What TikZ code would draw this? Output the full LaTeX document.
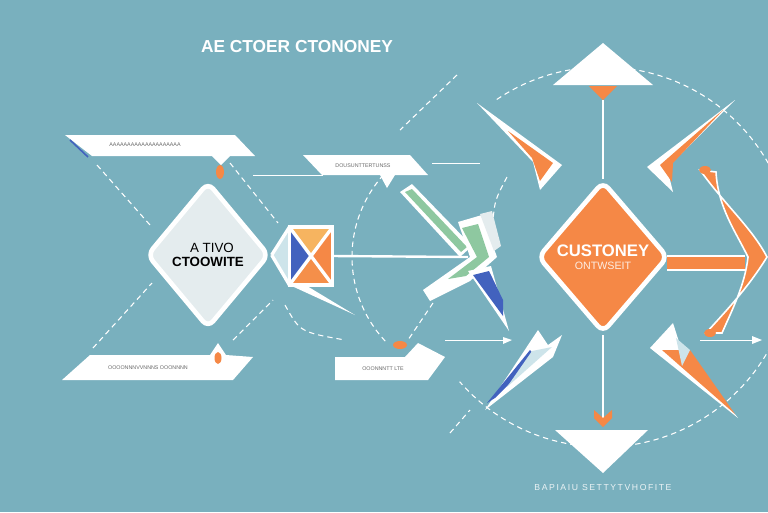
\documentclass[tikz,border=0pt]{standalone}
\usepackage{fontspec}
\setmainfont{Liberation Sans}
\usetikzlibrary{shapes.geometric, arrows, calc}

\definecolor{sea}{RGB}{121,176,190}
\definecolor{tang}{RGB}{245,136,70}
\definecolor{apricot}{RGB}{246,180,96}
\definecolor{cobalt}{RGB}{66,98,190}
\definecolor{mint}{RGB}{142,200,160}
\definecolor{mist}{RGB}{228,236,238}
\definecolor{frost}{RGB}{205,228,234}
\definecolor{ink}{RGB}{105,105,105}

\tikzstyle{decision} = [diamond, rounded corners=6pt, line width=3.5pt, draw=white, inner sep=0pt, align=center]
\tikzstyle{gate} = [rectangle, minimum width=32pt, minimum height=43pt, inner sep=0pt]
\tikzstyle{banner} = [fill=white]
\tikzstyle{caption} = [font=\fontsize{4}{4}\selectfont, text=ink]
\tikzstyle{link} = [white, line width=1.8pt]
\tikzstyle{hair} = [white, line width=0.7pt]
\tikzstyle{trail} = [white, line width=0.8pt, dash pattern=on 4pt off 3pt]
\tikzstyle{ember} = [fill=tang]

\begin{document}
\begin{tikzpicture}[x=0.75pt, y=-0.75pt]
    % Canvas
    \fill[sea] (0,0) rectangle (768,512);
    \useasboundingbox (0,0) rectangle (768,512);
    \coordinate (core) at (603,257);
    \coordinate (ring) at (475,257);

    % Title
    \node[font=\bfseries\fontsize{13}{13}\selectfont, text=white] (title) at (297,47) {AE CTOER CTONONEY};

    % Dashed guides
    \draw[trail] ($(core)+(-124:190)$) arc[start angle=-124, end angle=139, radius=190];
    \draw[trail] ($(ring)+(-125:123)$) arc[start angle=-125, end angle=-225, radius=123];
    \draw[trail] (97,165) -- (150,225);
    \draw[trail] (230,163) -- (278,223);
    \draw[trail] (93,348) -- (152,283);
    \draw[trail] (233,340) -- (273,300);
    \draw[trail] (285,305) .. controls (300,332) .. (345,340);
    \draw[trail] (457,75) -- (400,130);
    \draw[trail] (507,177) .. controls (495,200) .. (493,220);
    \draw[trail] (433,303) -- (408,340);
    \draw[trail] (450,433) -- (470,410);

    % Thin rules
    \draw[hair] (253,175) -- (323,175);
    \draw[hair] (432,163) -- (480,163);
    \draw[hair] (445,340) -- (510,340);
    \fill[white] (503,337) -- (512,340) -- (503,344) -- cycle;
    \draw[hair] (700,340) -- (760,340);
    \fill[white] (752,336) -- (762,340) -- (752,344) -- cycle;

    % Main flow
    \node[decision, fill=mist, minimum width=92pt, minimum height=110pt, font=\fontsize{10}{11}\selectfont] (active) at (208,255) {\hspace*{6pt}A TIVO\\\textbf{CTOOWITE}};
    \node[gate] (gate) at (311,256) {};
    \coordinate (chev) at (468,257);
    \draw[link] (gate.east) -- (chev);

    % Gate quadrants
    \fill[frost] (active.east) -- (gate.north west) -- (gate.south west) -- cycle;
    \fill[apricot] (gate.north west) -- (gate.north east) -- (gate.center) -- cycle;
    \fill[tang] (gate.north east) -- (gate.south east) -- (gate.center) -- cycle;
    \fill[tang!85!apricot] (gate.south west) -- (gate.south east) -- (gate.center) -- cycle;
    \fill[cobalt] (gate.north west) -- (gate.south west) -- (gate.center) -- cycle;
    \draw[white, line width=2.5pt] (gate.north west) rectangle (gate.south east);
    \draw[white, line width=2.5pt] (gate.north west) -- (gate.south east) (gate.north east) -- (gate.south west);
    \draw[white, line width=2.5pt] (active.east) -- (gate.north west) (active.east) -- (gate.south west);
    \fill[white] (gate.south west) -- (355,315) -- (302,283) -- cycle;

    % Banners
    \fill[banner] (65,135) -- (235,135) -- (255,156) -- (230,156) -- (221,165) -- (212,156) -- (92,156) -- cycle;
    \node[caption] (topnote) at (145,145) {AAAAAAAAAAAAAAAAAAAA};
    \draw[cobalt, line width=1.2pt] (70,140) -- (88,157);
    \fill[ember] (220,172) ellipse [x radius=4, y radius=7];

    \fill[banner] (62,380) -- (90,355) -- (210,355) -- (218,343) -- (226,355) -- (253,357) -- (233,380) -- cycle;
    \node[caption] (lownote) at (148,368) {OOOONNNVVNNNS OOONNNN};
    \fill[ember] (218,358) ellipse [x radius=3.5, y radius=6];

    \fill[banner] (303,155) -- (410,155) -- (428,175) -- (395,175) -- (387,188) -- (380,175) -- (322,175) -- cycle;
    \node[caption] (midnote) at (363,166) {DOUSUNTTERTUNSS};

    \fill[banner] (335,357) -- (405,357) -- (418,343) -- (445,357) -- (428,380) -- (335,380) -- cycle;
    \node[caption] (basenote) at (383,369) {OOONNNTT LTE};
    \fill[ember] (400,345) ellipse [x radius=7, y radius=4];

    % Left chevrons
    \fill[white] (400,192) -- (412,184) -- (472,246) -- (460,257) -- cycle;
    \fill[mint] (405,192) -- (412,189) -- (467,247) -- (461,252) -- cycle;
    \fill[white] (458,222) -- (482,215) -- (497,257) -- (470,281) -- (430,301) -- (423,290) -- (470,257) -- cycle;
    \fill[mint] (462,228) -- (478,224) -- (489,257) -- (466,276) -- (448,279) -- (477,257) -- cycle;
    \fill[mist] (480,214) -- (492,211) -- (501,246) -- (494,251) -- cycle;
    \fill[white] (468,271) -- (491,266) -- (509,331) -- cycle;
    \fill[cobalt] (473,275) -- (489,271) -- (503,300) -- (503,316) -- cycle;

    % Hub
    \node[decision, fill=tang, minimum width=98pt, minimum height=114pt, text=white] (hub) at (core) {\textbf{\fontsize{12.5}{13}\selectfont CUSTONEY}\\[-2pt]{\fontsize{8}{9}\selectfont\color{white!85!tang} ONTWSEIT}};

    % Top and bottom caps
    \fill[white] (553,85) -- (603,43) -- (653,85) -- cycle;
    \fill[tang] (589,86) -- (617,86) -- (603,100) -- cycle;
    \coordinate (topcap) at (603,100);
    \draw[link] (topcap) -- (hub.north);
    \fill[white] (555,430) -- (648,430) -- (603,473) -- cycle;
    \coordinate (botcap) at (603,421);
    \draw[link] (hub.south) -- (botcap);
    \fill[tang] (594,410) -- (603,418) -- (612,410) -- (612,418) -- (603,427) -- (594,418) -- cycle;

    % Right bar
    \coordinate (east) at (745,263);
    \draw[white, line width=12pt] ($(hub.east)+(-4,6)$) -- (east);
    \draw[tang, line width=9pt] ($(hub.east)+(-4,6)$) -- (east);

    % Planes around the hub
    \fill[white] (477,103) -- (562,165) -- (540,190) -- (533,162) -- cycle;
    \fill[tang] (508,131) -- (553,163) -- (540,181) -- (532,158) -- cycle;
    \fill[white] (735,100) -- (647,167) -- (673,192) -- (667,168) -- cycle;
    \fill[tang] (723,110) -- (660,165) -- (672,182) -- (673,163) -- cycle;
    \fill[white] (485,410) -- (538,330) -- (548,345) -- (562,335) -- (553,357) -- cycle;
    \fill[cobalt] (487,403) -- (530,350) -- (536,357) -- (495,398) -- cycle;
    \fill[frost] (532,351) -- (552,347) -- (507,387) -- cycle;
    \fill[white] (650,348) -- (673,323) -- (680,345) -- (738,418) -- cycle;
    \fill[tang] (662,350) -- (690,350) -- (735,414) -- cycle;
    \fill[frost] (676,338) -- (690,350) -- (682,366) -- cycle;

    % Curved arrow on the right
    \filldraw[fill=tang, draw=white, line width=1.2pt] (700,170) .. controls (725,205) and (752,228) .. (767,257) .. controls (748,288) and (725,312) .. (706,333) -- (722,333) .. controls (732,310) and (745,285) .. (748,257) .. controls (736,232) and (718,208) .. (716,172) -- cycle;
    \fill[ember] (705,170) ellipse [x radius=6, y radius=4];
    \fill[ember] (710,333) ellipse [x radius=6, y radius=4];

    % Footer
    \node[font=\fontsize{6.5}{6.5}\selectfont\addfontfeature{LetterSpace=18}, text=white!85!sea] (footer) at (603,488) {BAPIAIU SETTYTVHOFITE};
\end{tikzpicture}
\end{document}
